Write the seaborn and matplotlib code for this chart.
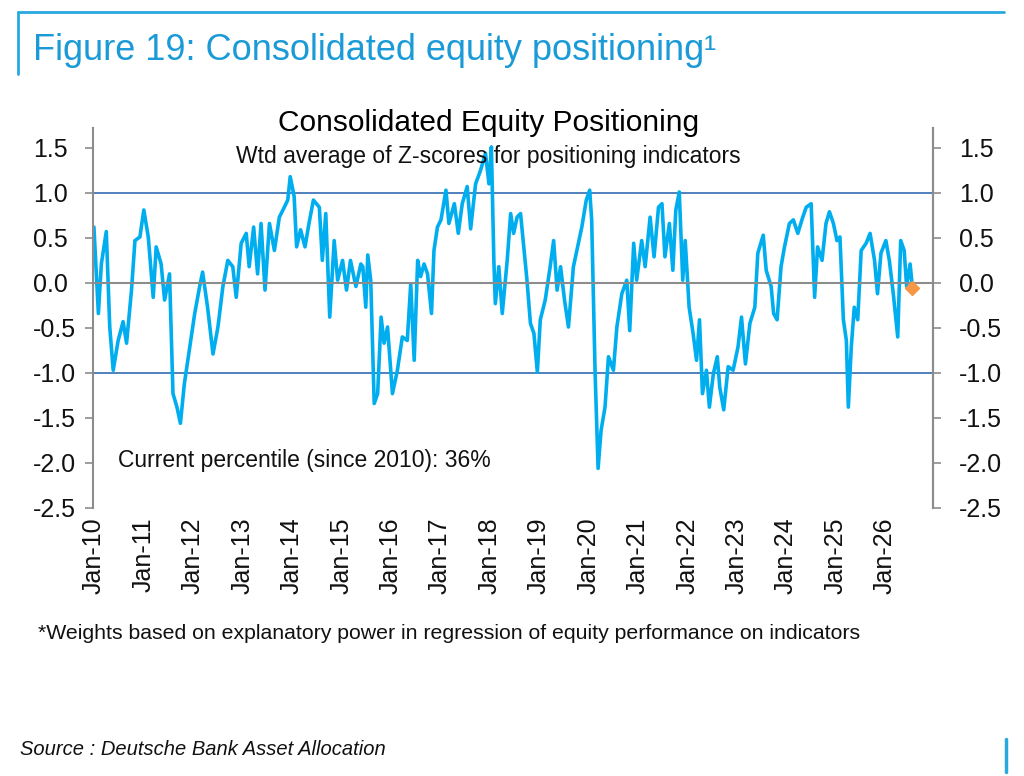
"""Consolidated equity positioning chart (Figure 19)."""

import numpy as np
import pandas as pd
import matplotlib
matplotlib.use('Agg')
import matplotlib.pyplot as plt
import matplotlib.dates as mdates
import seaborn as sns

# decimal years and weighted Z-score values
years = [
    2010.00, 2010.09, 2010.15, 2010.25, 2010.32, 2010.39, 2010.49, 2010.59, 2010.66, 2010.76,
    2010.83, 2010.93, 2011.01, 2011.10, 2011.20, 2011.26, 2011.36, 2011.43, 2011.53, 2011.60,
    2011.68, 2011.75, 2011.83, 2011.94, 2012.04, 2012.14, 2012.20, 2012.30, 2012.41, 2012.51,
    2012.61, 2012.71, 2012.81, 2012.88, 2012.98, 2013.08, 2013.14, 2013.23, 2013.31, 2013.38,
    2013.46, 2013.55, 2013.65, 2013.75, 2013.85, 2013.92, 2013.97, 2014.05, 2014.10, 2014.18,
    2014.27, 2014.35, 2014.44, 2014.56, 2014.62, 2014.69, 2014.77, 2014.86, 2014.93, 2015.03,
    2015.11, 2015.19, 2015.30, 2015.40, 2015.44, 2015.50, 2015.54, 2015.60, 2015.67, 2015.74,
    2015.81, 2015.87, 2015.94, 2016.04, 2016.14, 2016.24, 2016.34, 2016.41, 2016.48, 2016.55,
    2016.61, 2016.68, 2016.75, 2016.83, 2016.88, 2016.95, 2017.02, 2017.12, 2017.18, 2017.29,
    2017.37, 2017.45, 2017.55, 2017.62, 2017.72, 2017.82, 2017.92, 2017.99, 2018.04, 2018.09,
    2018.12, 2018.19, 2018.26, 2018.36, 2018.43, 2018.49, 2018.56, 2018.63, 2018.76, 2018.83,
    2018.90, 2018.97, 2019.03, 2019.13, 2019.23, 2019.30, 2019.37, 2019.44, 2019.52, 2019.60,
    2019.70, 2019.80, 2019.87, 2019.96, 2020.03, 2020.07, 2020.14, 2020.20, 2020.26, 2020.34,
    2020.41, 2020.51, 2020.58, 2020.68, 2020.78, 2020.84, 2020.92, 2020.98, 2021.08, 2021.15,
    2021.25, 2021.33, 2021.42, 2021.49, 2021.55, 2021.64, 2021.71, 2021.77, 2021.84, 2021.91,
    2021.96, 2022.04, 2022.12, 2022.19, 2022.25, 2022.31, 2022.39, 2022.45, 2022.53, 2022.61,
    2022.66, 2022.74, 2022.83, 2022.93, 2023.03, 2023.10, 2023.18, 2023.27, 2023.37, 2023.43,
    2023.54, 2023.60, 2023.70, 2023.75, 2023.82, 2023.90, 2023.97, 2024.07, 2024.15, 2024.24,
    2024.34, 2024.41, 2024.51, 2024.58, 2024.64, 2024.73, 2024.81, 2024.88, 2024.96, 2025.03,
    2025.09, 2025.16, 2025.22, 2025.26, 2025.32, 2025.38, 2025.45, 2025.52, 2025.62, 2025.70,
    2025.79, 2025.85, 2025.92, 2026.02, 2026.09, 2026.17, 2026.26, 2026.32, 2026.39, 2026.44,
    2026.51, 2026.55,
]
zscores = [
    0.62, -0.34, 0.21, 0.57, -0.49, -0.97, -0.64, -0.43, -0.67, -0.08,
    0.47, 0.51, 0.81, 0.51, -0.16, 0.40, 0.21, -0.19, 0.10, -1.23,
    -1.38, -1.56, -1.12, -0.71, -0.34, -0.04, 0.12, -0.27, -0.79, -0.49,
    -0.04, 0.25, 0.18, -0.16, 0.44, 0.55, 0.18, 0.62, 0.10, 0.66,
    -0.08, 0.66, 0.36, 0.73, 0.84, 0.92, 1.18, 0.96, 0.40, 0.59,
    0.40, 0.66, 0.92, 0.84, 0.25, 0.77, -0.38, 0.47, 0.03, 0.25,
    -0.08, 0.25, -0.04, 0.21, 0.18, -0.27, 0.31, 0.03, -1.34, -1.23,
    -0.38, -0.67, -0.49, -1.23, -0.97, -0.60, -0.64, -0.01, -0.86, 0.25,
    0.07, 0.21, 0.10, -0.34, 0.36, 0.62, 0.70, 1.03, 0.66, 0.88,
    0.55, 0.88, 1.07, 0.60, 1.10, 1.25, 1.44, 1.10, 1.51, 0.25,
    -0.23, 0.18, -0.34, 0.25, 0.77, 0.55, 0.73, 0.77, 0.03, -0.45,
    -0.56, -0.99, -0.41, -0.19, 0.18, 0.47, -0.08, 0.18, -0.19, -0.49,
    0.18, 0.44, 0.62, 0.92, 1.03, 0.70, -1.01, -2.06, -1.64, -1.38,
    -0.82, -0.97, -0.49, -0.12, 0.03, -0.53, 0.44, 0.03, 0.47, 0.18,
    0.73, 0.29, 0.84, 0.88, 0.29, 0.66, 0.14, 0.81, 1.01, 0.03,
    0.47, -0.27, -0.56, -0.86, -0.41, -1.23, -0.97, -1.38, -1.01, -0.82,
    -1.16, -1.41, -0.93, -0.97, -0.71, -0.38, -0.90, -0.45, -0.27, 0.33,
    0.53, 0.14, -0.04, -0.34, -0.41, 0.18, 0.40, 0.66, 0.70, 0.55,
    0.73, 0.84, 0.88, -0.16, 0.40, 0.25, 0.66, 0.79, 0.66, 0.47,
    0.51, -0.41, -0.64, -1.38, -0.71, -0.27, -0.41, 0.36, 0.44, 0.55,
    0.25, -0.12, 0.33, 0.47, 0.25, -0.12, -0.60, 0.47, 0.36, -0.04,
    0.21, -0.01,
]
current_year = 2026.55
current_value = -0.06

tick_years = list(range(2010, 2027))
tick_labels = [f"Jan-{y % 100:02d}" for y in tick_years]
y_ticks = [1.5, 1.0, 0.5, 0.0, -0.5, -1.0, -1.5, -2.0, -2.5]


def to_date(yr):
    y = int(np.floor(yr))
    return pd.Timestamp(y, 1, 1) + pd.Timedelta(days=(yr - y) * 365.25)


df = pd.DataFrame({'date': [to_date(y) for y in years], 'z': zscores})

sns.set_style('white')
plt.rcParams['font.family'] = ['Liberation Sans', 'DejaVu Sans']

fig = plt.figure(figsize=(10.24, 7.76), dpi=100)
ax = fig.add_axes([0.0908, 0.3454, 0.820, 0.4896])

sns.lineplot(data=df, x='date', y='z', ax=ax, color='#00AEEF', linewidth=2.6)
ax.plot([to_date(current_year)], [current_value], marker='D', color='#F79646',
        markersize=7, linestyle='none', zorder=5)

ax.axhline(1.0, color='#4F81BD', linewidth=1.4, zorder=1)
ax.axhline(-1.0, color='#4F81BD', linewidth=1.4, zorder=1)

ax.set_ylim(-2.5, 1.72)
ax.set_xlim(pd.Timestamp(2009, 12, 25), pd.Timestamp(2026, 12, 20))
ax.set_xlabel('')
ax.set_ylabel('')

# bottom spine acts as the zero line with ticks, labels placed at the bottom
ax.spines['bottom'].set_position(('data', 0))
ax.spines['bottom'].set_color('#8c8c8c')
ax.spines['bottom'].set_linewidth(1.5)
ax.spines['top'].set_visible(False)
for s in ['left', 'right']:
    ax.spines[s].set_color('#8c8c8c')
    ax.spines[s].set_linewidth(1.5)

tick_dates = [pd.Timestamp(y, 1, 1) for y in tick_years]
ax.set_xticks(tick_dates)
ax.tick_params(axis='x', direction='out', length=6, width=1.2, color='#8c8c8c',
               labelbottom=False)
for d, lab in zip(tick_dates, tick_labels):
    ax.text(mdates.date2num(d), -0.025, lab, transform=ax.get_xaxis_transform(),
            rotation=90, ha='center', va='top', fontsize=18, color='#111111')

ax.set_yticks(y_ticks)
ax.set_yticklabels([f"{v:.1f}" for v in y_ticks], ha='left')
ax.tick_params(axis='y', direction='out', length=6, width=1.2, color='#8c8c8c',
               labelsize=18, pad=37, labelcolor='#111111')
ax2 = ax.twinx()
ax2.set_ylim(ax.get_ylim())
ax2.set_yticks(y_ticks)
ax2.set_yticklabels([f"{v:.1f}" for v in y_ticks])
ax2.tick_params(axis='y', direction='out', length=6, width=1.2, color='#8c8c8c',
                labelsize=18, pad=13, labelcolor='#111111')
for s in ['top', 'left', 'bottom']:
    ax2.spines[s].set_visible(False)
ax2.spines['right'].set_color('#8c8c8c')
ax2.spines['right'].set_linewidth(1.5)

# titles and notes
fig.text(0.032, 0.935, 'Figure 19: Consolidated equity positioning\u00b9', fontsize=26,
         color='#1A9AD6', va='center')
fig.text(0.477, 0.841, 'Consolidated Equity Positioning', fontsize=21.5, ha='center',
         va='center', color='#000000')
fig.text(0.477, 0.798, 'Wtd average of Z-scores for positioning indicators', fontsize=16.5,
         ha='center', va='center', color='#111111')
fig.text(0.115, 0.407, 'Current percentile (since 2010): 36%', fontsize=16.5,
         va='center', color='#111111')
fig.text(0.037, 0.183, '*Weights based on explanatory power in regression of equity '
         'performance on indicators', fontsize=15.3, va='center', color='#111111')
fig.text(0.020, 0.034, 'Source : Deutsche Bank Asset Allocation', fontsize=14.5,
         style='italic', va='center', color='#111111')

# decorative frame lines
fig.add_artist(plt.Line2D([0.018, 0.980], [0.985, 0.985], color='#29A8E0', linewidth=2))
fig.add_artist(plt.Line2D([0.018, 0.018], [0.985, 0.905], color='#29A8E0', linewidth=2))
fig.add_artist(plt.Line2D([0.982, 0.982], [0.048, 0.005], color='#29A8E0', linewidth=2.5))

fig.savefig('out.png', dpi=100)
plt.close(fig)
